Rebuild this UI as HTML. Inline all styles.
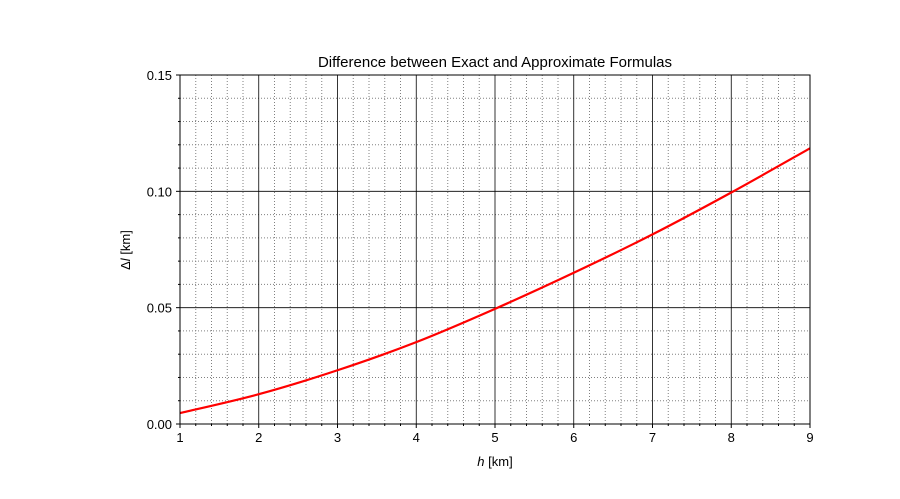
<!DOCTYPE html>
<html><head><meta charset="utf-8"><style>
body{margin:0;background:#fff;}
svg{display:block;font-family:"Liberation Sans","DejaVu Sans",sans-serif;}
</style></head><body>
<svg id="chart" width="900" height="499">
<rect width="900" height="499" fill="#fff"/>
<g id="grid"></g>
<g id="ticks"></g>
<text x="495" y="67" text-anchor="middle" font-size="15">Difference between Exact and Approximate Formulas</text>
<text x="495" y="466" text-anchor="middle" font-size="13"><tspan font-style="italic">h</tspan> [km]</text>
<text transform="translate(130,250) rotate(-90)" text-anchor="middle" font-size="13">Δ<tspan font-style="italic">l</tspan> [km]</text>
<g id="series"></g>
<rect x="180" y="75" width="630" height="349" fill="none" stroke="#000" stroke-width="1"/>
</svg>
<script>
const hValues=[1,2,3,4,5,6,7,8,9];
const dlValues=[0.0047,0.0128,0.0231,0.0352,0.0495,0.0650,0.0815,0.0995,0.1185];
const xTickLabels=["1","2","3","4","5","6","7","8","9"];
const yTickValues=[0,0.05,0.10,0.15];
const yTickLabels=["0.00","0.05","0.10","0.15"];
const L=180,R=810,T=75,B=424,xmin=1,xmax=9,ymin=0,ymax=0.15;
const sx=v=>L+(v-xmin)/(xmax-xmin)*(R-L);
const sy=v=>B-(v-ymin)/(ymax-ymin)*(B-T);
const NS="http://www.w3.org/2000/svg";
function mk(tag,attrs,parent){const e=document.createElementNS(NS,tag);for(const k in attrs)e.setAttribute(k,attrs[k]);parent.appendChild(e);return e;}
const grid=document.getElementById('grid'),ticks=document.getElementById('ticks'),series=document.getElementById('series');
// minor grid
for(let i=0;i<=40;i++){const v=xmin+i*0.2;if(i%5===0)continue;const x=sx(v);
 const g=mk('line',{x1:x,x2:x,y1:T,y2:B,stroke:'#808080','stroke-width':1,'stroke-dasharray':'1,2'},grid);
 
 
 const t=mk('line',{x1:x,x2:x,y1:B,y2:B+2,stroke:'#000'},ticks);
 
 }
for(let i=0;i<=15;i++){if(i%5===0)continue;const y=sy(i*0.01);
 const g=mk('line',{x1:L,x2:R,y1:y,y2:y,stroke:'#808080','stroke-width':1,'stroke-dasharray':'1,2'},grid);
 
 
 const t=mk('line',{x1:L-2,x2:L,y1:y,y2:y,stroke:'#000'},ticks);
 
 }
// major
hValues.forEach((v,i)=>{const x=sx(v);
 const g=mk('line',{x1:x,x2:x,y1:T,y2:B,stroke:'#000','stroke-width':0.8},grid);
 
 
 mk('line',{x1:x,x2:x,y1:B,y2:B+4,stroke:'#000'},ticks);
 const t=mk('text',{x:x,y:B+18,'text-anchor':'middle','font-size':13},ticks);t.textContent=xTickLabels[i];
 
 });
yTickValues.forEach((v,i)=>{const y=sy(v);
 const g=mk('line',{x1:L,x2:R,y1:y,y2:y,stroke:'#000','stroke-width':0.8},grid);
 
 
 mk('line',{x1:L-4,x2:L,y1:y,y2:y,stroke:'#000'},ticks);
 const t=mk('text',{x:L-8,y:y+5,'text-anchor':'end','font-size':13},ticks);t.textContent=yTickLabels[i];
 
 });
// curve via Catmull-Rom through data points
const pts=hValues.map((h,i)=>[sx(h),sy(dlValues[i])]);
let d=`M${pts[0][0]},${pts[0][1]}`;
for(let i=0;i<pts.length-1;i++){const p0=pts[i-1]||pts[i],p1=pts[i],p2=pts[i+1],p3=pts[i+2]||p2;
 d+=` C${p1[0]+(p2[0]-p0[0])/6},${p1[1]+(p2[1]-p0[1])/6} ${p2[0]-(p3[0]-p1[0])/6},${p2[1]-(p3[1]-p1[1])/6} ${p2[0]},${p2[1]}`;}
const line=mk('path',{d:d,fill:'none',stroke:'#ff0000','stroke-width':2.2},series);


</script>
</body></html>
